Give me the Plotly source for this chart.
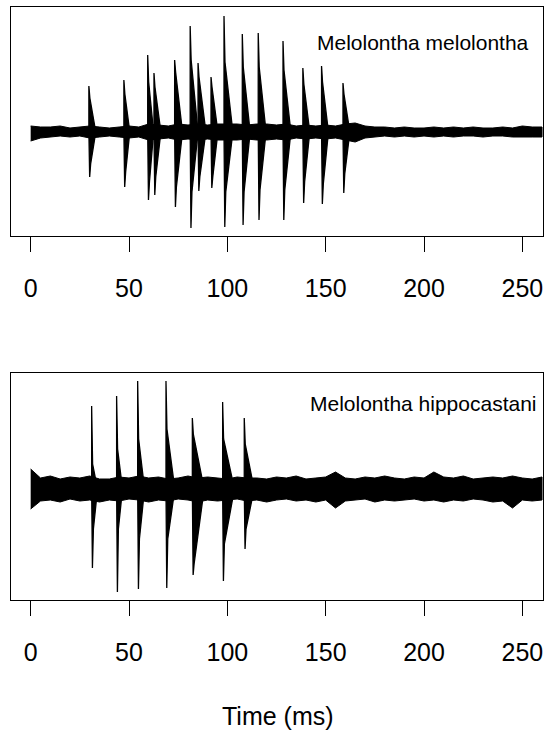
import plotly.graph_objects as go

# ---------------- data ----------------
tick_vals = [0, 50, 100, 150, 200, 250]
noise_t = list(range(0, 261, 5))  # ms

# top panel: Melolontha melolontha  (amplitude in arbitrary units)
top_noise_hi = [6, 5, 5, 6, 4, 5, 6, 5, 4, 5, 6, 5, 8, 7, 6, 8, 7, 8, 7, 8,
                8, 8, 7, 8, 8, 7, 8, 6, 7, 6, 7, 6, 8, 9, 6, 5, 5, 4, 5, 4,
                4, 5, 4, 5, 4, 5, 4, 4, 5, 4, 6, 5, 5]
top_noise_lo = [-9, -6, -5, -4, -5, -4, -6, -5, -4, -5, -6, -5, -8, -7, -6, -8, -7, -8, -7, -8,
                -8, -8, -7, -8, -8, -7, -8, -6, -7, -6, -7, -6, -8, -10, -6, -5, -4, -5, -4, -5,
                -4, -5, -4, -5, -4, -4, -5, -4, -4, -5, -5, -5, -5]
top_onset = [29.6, 47.4, 59.5, 62.7, 73.2, 81.1, 85.1, 91.7, 98.3, 107.6, 115.7, 128.3, 138.4, 147.9, 158.8]
top_peak_hi = [46, 52, 77, 59, 72, 106, 69, 55, 116, 98, 99, 91, 64, 66, 49]
top_peak_lo = [-45, -55, -68, -63, -75, -96, -59, -56, -95, -93, -88, -88, -71, -72, -61]
top_body_hi = [34, 38, 50, 45, 60, 72, 55, 45, 70, 65, 65, 62, 48, 50, 38]
top_body_lo = [-32, -40, -50, -45, -55, -60, -45, -45, -60, -60, -58, -58, -50, -52, -42]
top_decay = [3.5, 3, 3, 3.5, 4, 4, 4, 3.5, 4.5, 4, 4, 4, 3.5, 3.5, 3.5]

# bottom panel: Melolontha hippocastani
bot_noise_hi = [20, 11, 13, 10, 12, 11, 13, 10, 10, 12, 11, 13, 11, 12, 10, 11, 13, 11, 12, 11,
                10, 12, 11, 11, 10, 12, 11, 13, 10, 11, 12, 17, 11, 10, 12, 11, 13, 11, 10, 12,
                11, 17, 12, 11, 13, 10, 11, 12, 11, 13, 11, 10, 12]
bot_noise_lo = [-20, -12, -11, -13, -10, -12, -11, -13, -11, -12, -10, -11, -13, -11, -12, -10, -11, -13, -11, -12,
                -11, -10, -12, -11, -13, -11, -10, -12, -11, -13, -11, -19, -12, -11, -10, -13, -11, -12, -11, -10,
                -12, -11, -13, -11, -12, -10, -11, -13, -12, -19, -11, -12, -11]
bot_onset = [31.0, 43.7, 54.4, 68.8, 82.2, 97.6, 108.6]
bot_peak_hi = [83, 93, 108, 108, 71, 87, 71]
bot_peak_lo = [-79, -103, -100, -99, -86, -92, -60]
bot_body_hi = [25, 40, 50, 60, 55, 50, 45]
bot_body_lo = [-40, -40, -50, -50, -75, -55, -40]
bot_decay = [3, 3, 3.5, 4.5, 6, 6, 5]

labels = ["Melolontha melolontha", "Melolontha hippocastani"]

# ---------------- figure ----------------
SPK = 0.5   # width of the thin spike tip (style)
OFF = 0.4   # offset of the negative peak (style)
fig = go.Figure()


def add_panel(xa, ya, nhi, nlo, on, phi, plo, bhi, blo, dec):
    fig.add_trace(go.Scatter(
        x=noise_t + noise_t[::-1], y=nhi + nlo[::-1],
        fill="toself", fillcolor="black", mode="lines",
        line=dict(color="black", width=1), xaxis=xa, yaxis=ya,
        hoverinfo="skip", showlegend=False))
    for t0, a, b, c, d, L in zip(on, phi, plo, bhi, blo, dec):
        xs = [t0, t0, t0 + SPK, t0 + L, t0 + SPK + OFF, t0 + OFF, t0]
        ys = [0, a, c, 0, d, b, 0]
        fig.add_trace(go.Scatter(
            x=xs, y=ys, fill="toself", fillcolor="black", mode="lines",
            line=dict(color="black", width=1.3), xaxis=xa, yaxis=ya,
            hoverinfo="skip", showlegend=False))


add_panel("x", "y", top_noise_hi, top_noise_lo, top_onset, top_peak_hi, top_peak_lo,
          top_body_hi, top_body_lo, top_decay)
add_panel("x2", "y2", bot_noise_hi, bot_noise_lo, bot_onset, bot_peak_hi, bot_peak_lo,
          bot_body_hi, bot_body_lo, bot_decay)

xcommon = dict(range=[-10.0, 260.5], tickvals=tick_vals, ticks="outside", ticklen=15,
               tickwidth=1.3, tickcolor="black", showline=True, mirror=True,
               linecolor="black", linewidth=1.2, showgrid=False, zeroline=False,
               tickfont=dict(size=25, color="black"), ticklabelstandoff=15)
ycommon = dict(showticklabels=False, ticks="", showline=True, mirror=True,
               linecolor="black", linewidth=1.2, showgrid=False, zeroline=False)

fig.update_layout(
    width=548, height=731,
    margin=dict(l=11, r=5, t=7, b=131),
    paper_bgcolor="white", plot_bgcolor="white",
    font=dict(family="Liberation Sans, Arial, sans-serif", color="black"),
    xaxis=dict(anchor="y", domain=[0, 1], **xcommon),
    yaxis=dict(domain=[0.6138, 1], range=[-104, 125], **ycommon),
    xaxis2=dict(anchor="y2", domain=[0, 1], **xcommon),
    yaxis2=dict(domain=[0, 0.3833], range=[-111, 116.3], **ycommon),
    annotations=[
        dict(text=labels[0], xref="paper", yref="paper", x=0.977, y=0.9393,
             xanchor="right", yanchor="middle", showarrow=False, font=dict(size=21)),
        dict(text=labels[1], xref="paper", yref="paper", x=0.9925, y=0.3317,
             xanchor="right", yanchor="middle", showarrow=False, font=dict(size=21)),
        dict(text="Time (ms)", xref="paper", yref="paper", x=0.501, y=-0.1956,
             xanchor="center", yanchor="middle", showarrow=False, font=dict(size=25)),
    ],
)

fig.write_html("out.html", config={"displayModeBar": False},
               post_script="document.body.style.margin='0';document.body.style.overflow='hidden';")
